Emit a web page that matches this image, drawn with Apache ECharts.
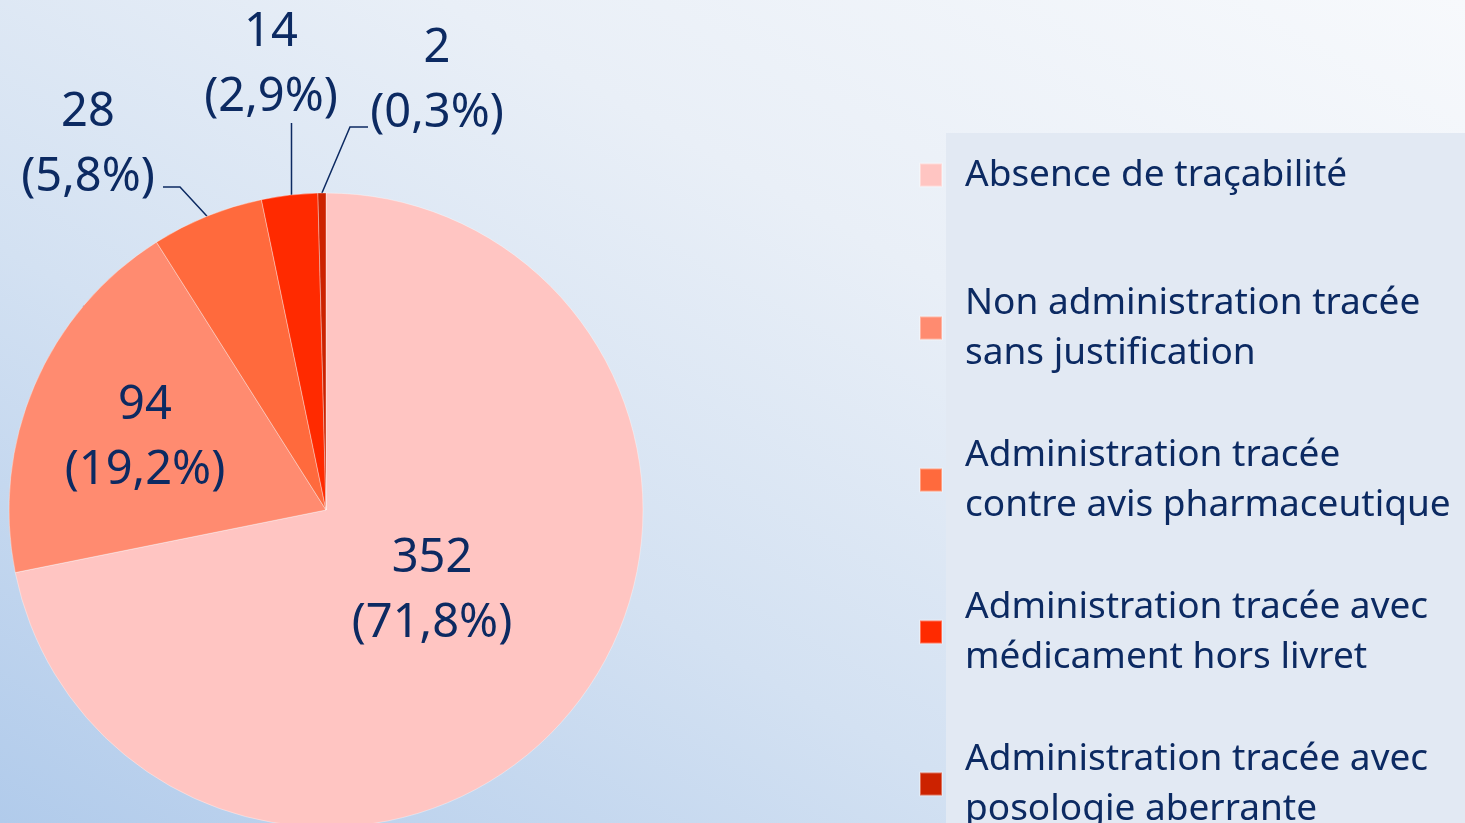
<!DOCTYPE html>
<html lang="fr">
<head>
    <meta charset="UTF-8">
    <title>Traçabilité des administrations</title>
    <script type="text/javascript" src="https://cdn.jsdelivr.net/npm/echarts@6/dist/echarts.min.js"></script>
    <style>
        html, body { margin: 0; padding: 0; }
        #main {
            width: 1465px; height: 823px;
            background: linear-gradient(to top right, #b1cbeb 0%, #d3e1f2 35%, #e9eff7 65%, #f7f9fc 100%);
        }
    </style>
</head>
<body>
<div id="main"></div>

<script type="text/javascript">
    // donnees
    var categories = [
        'Absence de traçabilité',
        'Non administration tracée sans justification',
        'Administration tracée contre avis pharmaceutique',
        'Administration tracée avec médicament hors livret',
        'Administration tracée avec posologie aberrante'
    ];
    var legendLines = [
        'Absence de traçabilité',
        'Non administration tracée\nsans justification',
        'Administration tracée\ncontre avis pharmaceutique',
        'Administration tracée avec\nmédicament hors livret',
        'Administration tracée avec\nposologie aberrante'
    ];
    var counts = [352, 94, 28, 14, 2];
    var pctLabels = ['71,8%', '19,2%', '5,8%', '2,9%', '0,3%'];

    var colors = ['#ffc5c2', '#ff8b70', '#ff6a3d', '#ff2a00', '#cc2200'];
    var navy = '#0c2a62';
    var font = '"Noto Sans", "Open Sans", sans-serif';

    // centre des etiquettes (px)
    var labelPos = [[432, 591], [145, 438], [88, 145], [271, 65], [437, 81]];

    var myChart = echarts.init(document.getElementById('main'));

    var seriesData = [];
    for (var i = 0; i < categories.length; i++) {
        seriesData.push({
            name: categories[i],
            value: counts[i],
            itemStyle: { color: colors[i] },
            label: { position: i < 2 ? 'inside' : 'outside' }
        });
    }

    function legendFormatter(name) {
        return legendLines[categories.indexOf(name)];
    }

    // trait de rappel : depart pres du texte, coude, puis point sur l'arc
    function leader(idx, p, arc) {
        if (idx === 2) return [[p[0] + 75, p[1] + 42], [p[0] + 92, p[1] + 42], arc];
        if (idx === 3) return [[arc[0] + 2, p[1] + 58], [arc[0] + 2, p[1] + 92], [arc[0] + 2, arc[1]]];
        if (idx === 4) return [[p[0] - 69, p[1] + 46], [p[0] - 87, p[1] + 46], arc];
        return null;
    }

    var legendCommon = {
        orient: 'vertical',
        left: 919,
        height: 640,
        padding: 0,
        icon: 'rect',
        itemWidth: 22,
        itemHeight: 23,
        itemGap: 52,
        selectedMode: false,
        formatter: legendFormatter,
        textStyle: {
            fontFamily: font,
            fontSize: 37,
            lineHeight: 50,
            color: navy,
            padding: [0, 0, 0, 18]
        }
    };

    var option = {
        animation: false,
        graphic: [{
            type: 'rect',
            z: -10,
            shape: { x: 946, y: 133, width: 519, height: 690 },
            style: { fill: '#e2e9f3' }
        }],
        legend: [
            Object.assign({}, legendCommon, { top: 150, data: categories.slice(0, 1) }),
            Object.assign({}, legendCommon, { top: 278, data: categories.slice(1) })
        ],
        series: [{
            type: 'pie',
            center: [326, 510],
            radius: 317,
            startAngle: 90,
            clockwise: true,
            avoidLabelOverlap: false,
            itemStyle: { borderColor: 'rgba(255,255,255,0.35)', borderWidth: 1 },
            label: {
                formatter: function (p) {
                    return p.value + '\n(' + pctLabels[p.dataIndex] + ')';
                },
                fontFamily: font,
                fontSize: 47,
                lineHeight: 65,
                color: navy,
                align: 'center'
            },
            labelLine: {
                show: true,
                length: 20,
                length2: 15,
                lineStyle: { color: navy, width: 1.5 }
            },
            labelLayout: function (params) {
                var idx = params.dataIndex;
                var p = labelPos[idx];
                var res = { x: p[0], y: p[1], align: 'center', verticalAlign: 'middle' };
                var pts = params.labelLinePoints;
                if (pts && pts.length) {
                    var line = leader(idx, p, pts[0]);
                    if (line) res.labelLinePoints = line;
                }
                return res;
            },
            emphasis: { disabled: true },
            data: seriesData
        }]
    };

    myChart.setOption(option);
</script>
</body>
</html>
